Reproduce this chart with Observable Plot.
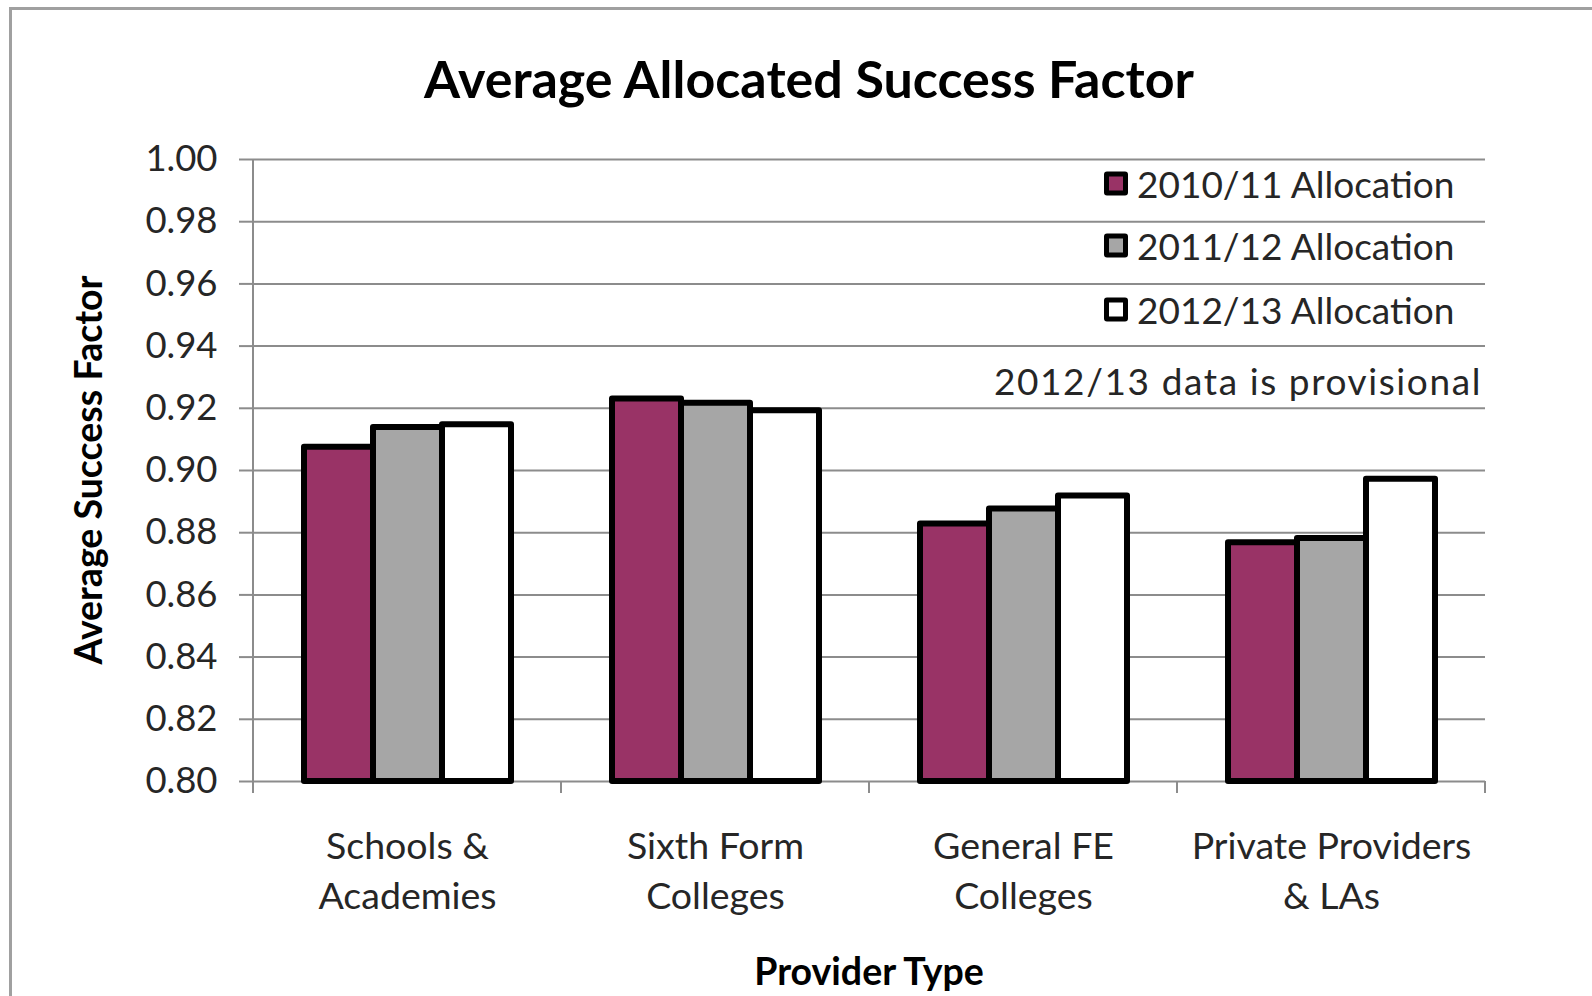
<!DOCTYPE html>
<html>
<head>
<meta charset="utf-8">
<script src="https://cdn.jsdelivr.net/npm/d3@7"></script>
<script src="https://cdn.jsdelivr.net/npm/@observablehq/plot@0.6"></script>
<style>
  html, body { margin: 0; padding: 0; background: #fff; }
  #wrap { position: relative; width: 1592px; height: 996px; overflow: hidden; font-family: Lato, sans-serif; color: #262626; }
  #frame { position: absolute; left: 9px; top: 7px; width: 1700px; height: 1100px; border: 3px solid #a0a0a0; box-sizing: border-box; }
  #wrap svg { position: absolute; left: 0; top: 0; }
  .abs { position: absolute; white-space: nowrap; line-height: 1; }
  .title { font-size: 52px; font-weight: 700; color: #000; transform: translate(-50%, -50%); }
  .axt { font-size: 37.5px; font-weight: 700; color: #000; }
  .leg { display: flex; align-items: center; font-size: 37px; color: #262626; transform: translateY(-50%); }
  .sw { width: 14px; height: 14px; border: 5px solid #000; border-radius: 3px; margin-right: 9px; }
</style>
</head>
<body>
<div id="wrap">
  <div id="frame"></div>
</div>
<script>
// ---- data ----
const categories = ["Schools & Academies", "Sixth Form Colleges", "General FE Colleges", "Private Providers & LAs"];
const categoryLabels = ["Schools &\nAcademies", "Sixth Form\nColleges", "General FE\nColleges", "Private Providers\n& LAs"];
const series = ["2010/11 Allocation", "2011/12 Allocation", "2012/13 Allocation"];
const values2010 = [0.9075, 0.9230, 0.8828, 0.8768];
const values2011 = [0.9138, 0.9216, 0.8876, 0.8781];
const values2012 = [0.9147, 0.9192, 0.8918, 0.8972];
const seriesColors = ["#993366", "#a6a6a6", "#ffffff"];
const yTicks = [0.80, 0.82, 0.84, 0.86, 0.88, 0.90, 0.92, 0.94, 0.96, 0.98, 1.00];
const yDomain = [0.80, 1.00];
const titleText = "Average Allocated Success Factor";
const yTitle = "Average Success Factor";
const xTitle = "Provider Type";
const noteText = "2012/13 data is provisional";

const seriesValues = [values2010, values2011, values2012];
const data = categories.flatMap((c, i) => series.map((s, j) => ({category: c, series: s, value: seriesValues[j][i]})));
const labelOf = new Map(categories.map((c, i) => [c, categoryLabels[i]]));

const gridColor = "#8c8c8c";

const plot = Plot.plot({
  width: 1592,
  height: 996,
  marginLeft: 251,
  marginRight: 106,
  marginTop: 159,
  marginBottom: 215,
  style: {fontFamily: "Lato, sans-serif", background: "transparent", overflow: "visible"},
  fx: {domain: categories, padding: 0, label: null},
  x: {domain: series, paddingInner: 0, paddingOuter: 0.729, axis: null},
  y: {domain: yDomain, label: null},
  color: {domain: series, range: seriesColors},
  marks: [
    Plot.gridY(yTicks, {stroke: gridColor, strokeOpacity: 1, strokeWidth: 2}),
    Plot.axisY(yTicks, {tickSize: 14, tickPadding: 22, stroke: gridColor, strokeWidth: 2, fill: "#262626",
      tickFormat: d3.format(".2f"), fontSize: 36.5, label: null}),
    Plot.axisFx({anchor: "bottom", tickSize: 0, tickPadding: 42, tickFormat: (c) => labelOf.get(c), fontSize: 37.5,
      lineHeight: 1.33, fill: "#262626", label: null}),
    Plot.barY(data, {fx: "category", x: "series", y1: yDomain[0], y2: "value", fill: "series",
      stroke: "#000", strokeWidth: 6, strokeLinejoin: "round"})
  ]
});

const wrap = document.getElementById("wrap");
wrap.appendChild(plot);

// category boundary ticks and y axis line, positioned from Plot's own scales
const fx = plot.scale("fx");
const y = plot.scale("y");
const yb = y.apply(yDomain[0]);
const yt = y.apply(yDomain[1]);
const bw = fx.bandwidth;
const bounds = categories.map((c) => fx.apply(c)).concat([fx.apply(categories[categories.length - 1]) + bw]);
const svg = d3.select(plot);
const g = svg.insert("g", ":first-child").attr("stroke", gridColor).attr("stroke-width", 2);
g.selectAll("line.b").data(bounds).join("line")
  .attr("x1", (d) => d).attr("x2", (d) => d).attr("y1", yb).attr("y2", yb + 12);
g.append("line").attr("x1", bounds[0]).attr("x2", bounds[0]).attr("y1", yt).attr("y2", yb + 12);

// title and axis titles
function addDiv(cls, text, css) {
  const d = document.createElement("div");
  d.className = "abs " + cls;
  d.textContent = text;
  Object.assign(d.style, css);
  wrap.appendChild(d);
  return d;
}
addDiv("title", titleText, {left: "809px", top: "78px"});
addDiv("axt", xTitle, {left: ((bounds[0] + bounds[bounds.length - 1]) / 2) + "px", top: "971px", transform: "translate(-50%,-50%)"});
addDiv("axt", yTitle, {left: "88px", top: ((yb + yt) / 2) + "px", transform: "translate(-50%,-50%) rotate(-90deg)"});

// legend
const legendRows = [183, 245, 309];
series.forEach((s, i) => {
  const row = document.createElement("div");
  row.className = "abs leg";
  row.style.left = "1104px";
  row.style.top = legendRows[i] + "px";
  const sw = document.createElement("div");
  sw.className = "sw";
  sw.style.background = plot.scale("color").apply(s);
  const t = document.createElement("span");
  t.textContent = s;
  row.appendChild(sw);
  row.appendChild(t);
  wrap.appendChild(row);
});
addDiv("", noteText, {right: (1592 - 1482) + "px", top: "380px", fontSize: "37px", letterSpacing: "1.6px",
  transform: "translateY(-50%)", color: "#262626"});
</script>
</body>
</html>
